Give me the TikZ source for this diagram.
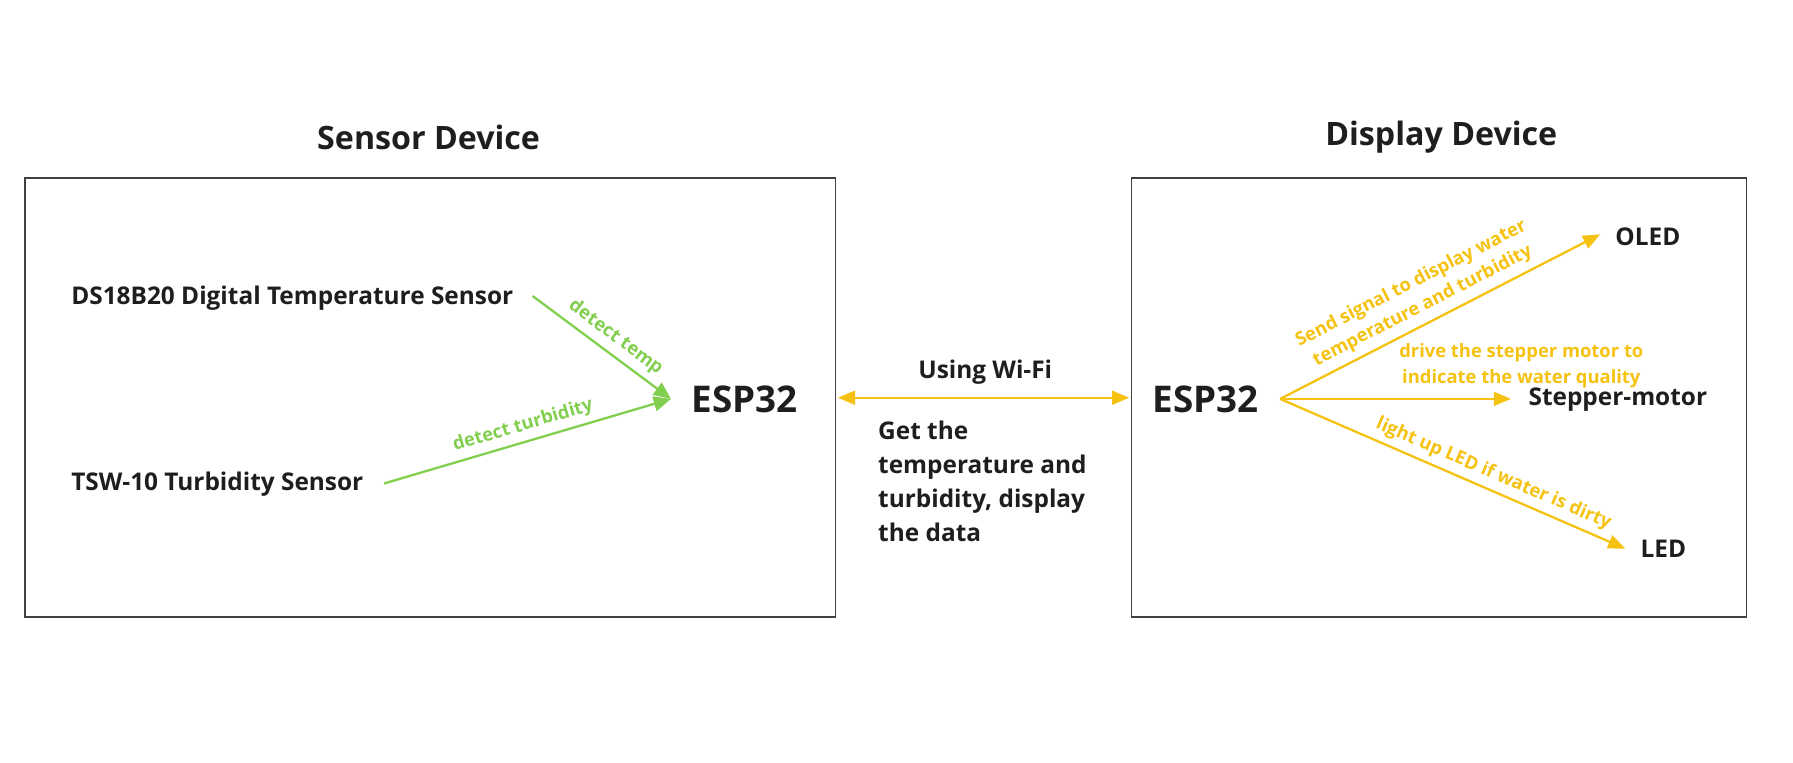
\documentclass[tikz,border=0pt]{standalone}
\usepackage{fontspec}
\setmainfont{Open Sans}
\usetikzlibrary{arrows.meta}
\definecolor{ylw}{HTML}{F5C211}
\definecolor{grn}{HTML}{82CF4F}
\definecolor{ink}{HTML}{1E1E1E}
\tikzset{
  box/.style={draw=ink!85, line width=0.9pt},
  title/.style={font=\fontsize{16.1}{19}\selectfont\bfseries, text=ink},
  comp/.style={font=\fontsize{12.2}{15}\selectfont\bfseries, text=ink, inner sep=0pt},
  esp/.style={font=\fontsize{18.4}{22}\selectfont\bfseries, text=ink, inner sep=0pt},
  lbl/.style={font=\fontsize{9.2}{12.6}\selectfont\bfseries, inner sep=0pt},
  garrow/.style={draw=grn, line width=1.15pt, -{Triangle[length=8.6pt,width=7.4pt]}},
  yarrow/.style={draw=ylw, line width=1.15pt, -{Triangle[length=8.6pt,width=6.9pt]}},
}
\begin{document}
\begin{tikzpicture}[x=0.5715pt,y=-0.5715pt]
\useasboundingbox (0,0) rectangle (1568.7,666.7);
% boxes
\draw[box] (22,156) rectangle (731,540);
\draw[box] (990,156) rectangle (1528,540);
\node[title] (t1) at (375,120) {Sensor Device};
\node[title] (t2) at (1261,120) {Display Device};
% left
\node[comp, anchor=west] (ds) at (62,261) {DS18B20 Digital Temperature Sensor};
\node[comp, anchor=west] (tsw) at (62,424) {TSW-10 Turbidity Sensor};
\node[esp, anchor=west] (espL) at (605,349) {ESP32};
\coordinate (dsO) at (466,259);
\coordinate (tswO) at (336,423);
\coordinate (espLi) at (587,349);
\draw[garrow] (dsO) -- node[lbl, text=grn, sloped, above=3pt, pos=0.53] (l1) {detect temp} (espLi);
\draw[garrow] (tswO) -- node[lbl, text=grn, sloped, above=2.8pt, pos=0.5] (l2) {detect turbidity} (espLi);
% middle
\node[esp, anchor=west] (espR) at (1008,349) {ESP32};
\coordinate (wl) at (733,348);
\coordinate (wr) at (988,348);
\draw[yarrow, {Triangle[length=8.6pt,width=6.9pt]}-{Triangle[length=8.6pt,width=6.9pt]}] (wl) -- (wr);
\node[comp] (wifi) at (862,326) {Using Wi-Fi};
\node[comp, font=\fontsize{12.2}{17}\selectfont\bfseries, anchor=north west, align=left] (get) at (768,368) {Get the\\temperature and\\turbidity, display\\the data};
% right
\node[comp, anchor=west] (oled) at (1413,207) {OLED};
\node[comp, anchor=west] (step) at (1337,350) {Stepper-motor};
\node[comp, anchor=west] (led) at (1435,480) {LED};
\coordinate (espRo) at (1120,349);
\coordinate (oledI) at (1400,205);
\coordinate (stepI) at (1322,349);
\coordinate (ledI) at (1422,480);
\draw[yarrow] (espRo) -- node[lbl, text=ylw, sloped, above=3.4pt, pos=0.47, align=center] (l3) {Send signal to display water\\temperature and turbidity} (oledI);
\draw[yarrow] (espRo) -- (stepI);
\node[lbl, text=ylw, align=center] (l4) at (1331,320) {drive the stepper motor to\\indicate the water quality};
\draw[yarrow] (espRo) -- node[lbl, text=ylw, sloped, above=2.8pt, pos=0.6] (l5) {light up LED if water is dirty} (ledI);
\end{tikzpicture}
\end{document}
